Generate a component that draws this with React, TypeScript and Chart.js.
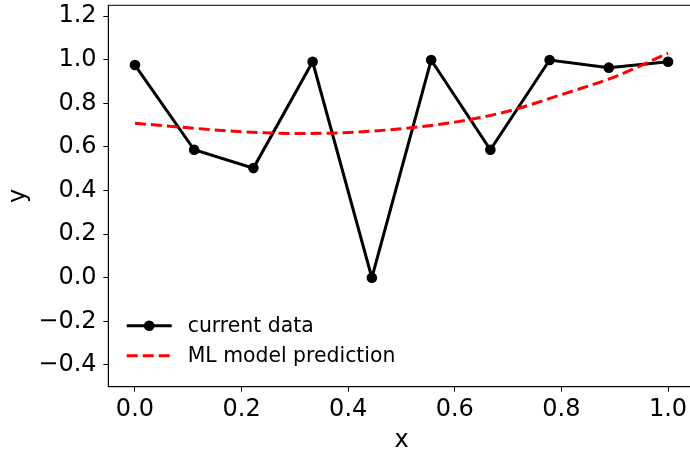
import React, { useEffect, useRef } from "react";
import { Chart, registerables } from "chart.js";

Chart.register(...registerables);

// ---- data ----
const xValues = [0, 0.1111, 0.2222, 0.3333, 0.4444, 0.5556, 0.6667, 0.7778, 0.8889, 1.0];
const currentData = [0.976, 0.587, 0.503, 0.991, 0.0, 0.999, 0.587, 0.999, 0.964, 0.991];
const predX = [0, 0.1, 0.2, 0.3, 0.4, 0.5, 0.6, 0.7, 0.8, 0.9, 1.0];
const predY = [0.709, 0.688, 0.670, 0.662, 0.666, 0.684, 0.714, 0.764, 0.840, 0.922, 1.030];
const xTicks = [0, 0.2, 0.4, 0.6, 0.8, 1.0];
const yTicks = [-0.4, -0.2, 0, 0.2, 0.4, 0.6, 0.8, 1.0, 1.2];
const xRange = [-0.05, 1.05];
const yRange = [-0.5, 1.25];
const seriesLabels = ["current data", "ML model prediction"];

const FONT = "'DejaVu Sans', sans-serif";

const fmt = (v: number) => (v < 0 ? "\u2212" : "") + Math.abs(v).toFixed(1);

const framePlugin = {
  id: "frameAndLegend",
  afterDraw(chart: any) {
    const { ctx, chartArea } = chart;
    ctx.save();
    // axes box
    ctx.strokeStyle = "#000";
    ctx.lineWidth = 1;
    ctx.strokeRect(chartArea.left, chartArea.top, chartArea.right - chartArea.left, chartArea.bottom - chartArea.top);
    // legend
    const x0 = chartArea.left + 18.4;
    let y = chartArea.bottom - 61;
    ctx.font = "20.4px " + FONT;
    ctx.textBaseline = "middle";
    ctx.textAlign = "left";
    chart.data.datasets.forEach((ds: any) => {
      ctx.beginPath();
      ctx.strokeStyle = ds.borderColor;
      ctx.lineWidth = ds.borderWidth;
      ctx.setLineDash(ds.borderDash || []);
      ctx.moveTo(x0, y);
      ctx.lineTo(x0 + 45, y);
      ctx.stroke();
      ctx.setLineDash([]);
      if (ds.pointRadius > 0) {
        ctx.beginPath();
        ctx.fillStyle = ds.pointBackgroundColor;
        ctx.arc(x0 + 22.5, y, ds.pointRadius, 0, Math.PI * 2);
        ctx.fill();
      }
      ctx.fillStyle = "#000";
      ctx.fillText(ds.label, x0 + 61, y + 1);
      y += 30;
    });
    ctx.restore();
  },
};

export default function App() {
  const ref = useRef<HTMLCanvasElement | null>(null);
  useEffect(() => {
    if (!ref.current) return;
    const chart = new Chart(ref.current, {
      type: "line",
      data: {
        datasets: [
          {
            label: seriesLabels[0],
            data: xValues.map((x, i) => ({ x, y: currentData[i] })),
            borderColor: "#000",
            backgroundColor: "#000",
            borderWidth: 3,
            pointRadius: 5.3,
            pointHoverRadius: 5.3,
            pointBackgroundColor: "#000",
            pointBorderWidth: 0,
            tension: 0,
            order: 1,
          } as any,
          {
            label: seriesLabels[1],
            data: predX.map((x, i) => ({ x, y: predY[i] })),
            borderColor: "#ff0000",
            borderWidth: 3,
            borderDash: [11, 5],
            pointRadius: 0,
            tension: 0.4,
            cubicInterpolationMode: "monotone",
            order: 0,
          } as any,
        ],
      },
      options: {
        animation: false,
        responsive: false,
        devicePixelRatio: 1,
        layout: { padding: { top: 5, right: 5, bottom: 0, left: 0 } },
        plugins: { legend: { display: false }, tooltip: { enabled: false } },
        scales: {
          x: {
            type: "linear",
            min: xRange[0],
            max: xRange[1],
            afterBuildTicks: (s: any) => {
              s.ticks = xTicks.map((v) => ({ value: v }));
            },
            afterFit: (s: any) => {
              s.height = 65.3;
            },
            ticks: {
              color: "#000",
              font: { family: FONT, size: 24 },
              padding: 4,
              maxRotation: 0,
              autoSkip: false,
              callback: (v: any) => fmt(Number(v)),
            },
            grid: { display: true, drawOnChartArea: false, drawTicks: true, tickLength: 5, color: "#000" },
            border: { display: true, color: "#000", width: 1 },
            title: {
              display: true,
              text: "x",
              color: "#000",
              font: { family: FONT, size: 24, lineHeight: 0.9 },
              padding: { top: 0, bottom: 0 },
            },
          },
          y: {
            type: "linear",
            min: yRange[0],
            max: yRange[1],
            afterBuildTicks: (s: any) => {
              s.ticks = yTicks.map((v) => ({ value: v }));
            },
            afterFit: (s: any) => {
              s.width = 108.3;
              s.paddingTop = 0;
              s.paddingBottom = 0;
            },
            ticks: {
              color: "#000",
              font: { family: FONT, size: 24, lineHeight: 0.01 },
              padding: 6.7,
              autoSkip: false,
              callback: (v: any) => fmt(Number(v)),
            },
            grid: { display: true, drawOnChartArea: false, drawTicks: true, tickLength: 5, color: "#000" },
            border: { display: true, color: "#000", width: 1 },
            title: {
              display: true,
              text: "y",
              color: "#000",
              font: { family: FONT, size: 24, lineHeight: 0.9 },
              padding: { top: 8, bottom: 0 },
            },
          },
        },
      },
      plugins: [framePlugin],
    });
    return () => chart.destroy();
  }, []);
  return (
    <div style={{ position: "absolute", left: 0, top: 0, width: 690, height: 452, overflow: "hidden", background: "#fff" }}>
      <canvas ref={ref} width={700} height={452} style={{ display: "block" }} />
    </div>
  );
}
